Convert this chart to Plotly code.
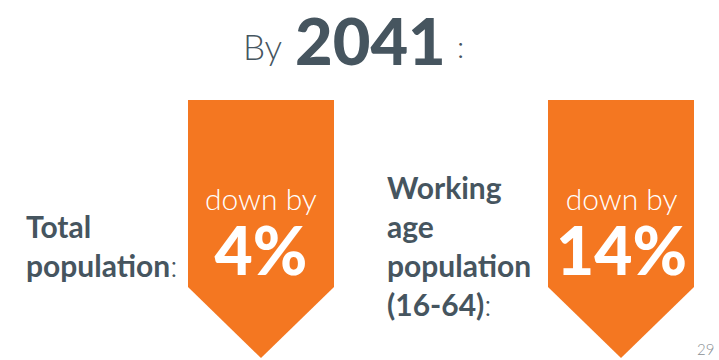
import plotly.graph_objects as go

# data
categories = ["Total<br>population", "Working<br>age<br>population<br>(16-64)"]
changes = [4, 14]
change_word = "down by"
year = "2041"
page_number = "29"

DARK = "#46555f"
ORANGE = "#f47721"

W, H = 719, 360
fig = go.Figure()

arrow_left = [188, 548]
label_right = [179, 533]
label_mid = [245, 245]
arrow_w = 146
top, shoulder, tip = 100, 287, 358

for i, (cat, val) in enumerate(zip(categories, changes)):
    x0 = arrow_left[i]
    x1 = x0 + arrow_w
    xm = (x0 + x1) / 2
    fig.add_trace(go.Scatter(
        x=[x0, x1, x1, xm, x0, x0],
        y=[top, top, shoulder, tip, shoulder, top],
        fill="toself", fillcolor=ORANGE, mode="lines",
        line=dict(width=0, color=ORANGE), hoverinfo="skip", showlegend=False))
    txt = (f"<span style='font-size:30px;font-weight:300'>{change_word}</span><br>"
           f"<span style='font-size:66px;font-weight:900'>{val}%</span>")
    fig.add_annotation(x=xm, y=234, text=txt, showarrow=False,
                       xanchor="center", yanchor="middle", align="center",
                       font=dict(family="Lato", size=50, color="white", weight=300))
    fig.add_annotation(x=label_right[i], y=label_mid[i],
                       text=cat + "<span style='font-weight:300'>:</span>",
                       showarrow=False, xanchor="right", yanchor="middle", align="left",
                       font=dict(family="Lato", size=30, color=DARK, weight=700))

fig.add_annotation(x=284, y=46, text="By", showarrow=False, xanchor="right", yanchor="middle",
                   font=dict(family="Lato", size=35, color=DARK, weight=300))
fig.add_annotation(x=370, y=40, text=year, showarrow=False, xanchor="center", yanchor="middle",
                   font=dict(family="Lato", size=65, color=DARK, weight=900))
fig.add_annotation(x=455, y=46, text=":", showarrow=False, xanchor="left", yanchor="middle",
                   font=dict(family="Lato", size=30, color=DARK, weight=300))
fig.add_annotation(x=716, y=349, text=page_number, showarrow=False, xanchor="right", yanchor="middle",
                   font=dict(family="Lato", size=15, color="#8a8f94", weight=300))

fig.update_layout(
    width=W, height=H, margin=dict(l=0, r=0, t=0, b=0),
    paper_bgcolor="white", plot_bgcolor="white",
    xaxis=dict(range=[0, W], visible=False, fixedrange=True),
    yaxis=dict(range=[H, 0], visible=False, fixedrange=True),
)
fig.write_html("out.html")
